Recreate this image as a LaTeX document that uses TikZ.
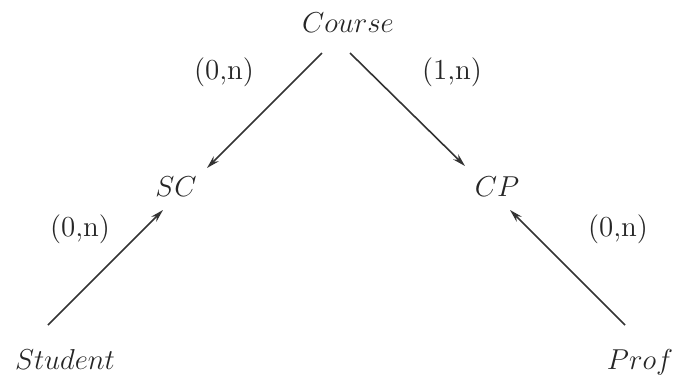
\documentclass[tikz,border=0pt]{standalone}
\usetikzlibrary{arrows.meta}
\begin{document}
\begin{tikzpicture}[x=0.5pt,y=-0.5pt,
  lbl/.style={inner sep=0pt,font=\fontsize{14.5}{17}\selectfont,text=black!85},
  conn/.style={line width=0.8pt,draw=black!80,-{Stealth[length=6.5pt,width=3.6pt]}}]
\useasboundingbox (0,0) rectangle (676,381);
% entity / relationship names
\node[lbl] (course)  at (348,23)  {$Course$};
\node[lbl] (sc)      at (176,187) {$SC$};
\node[lbl] (cp)      at (497,187) {$CP$};
\node[lbl] (student) at (65,359)  {$Student$};
\node[lbl] (prof)    at (640,362) {$Prof$};
% cardinality labels
\node[lbl] (l1) at (224,72)  {(0,n)};
\node[lbl] (l2) at (452,72)  {(1,n)};
\node[lbl] (l3) at (80,229)  {(0,n)};
\node[lbl] (l4) at (618,229) {(0,n)};
% connectors
\draw[conn] ([shift={(-26,30)}]course.center) -- ([shift={(31,-19)}]sc.center);
\draw[conn] ([shift={(2,30)}]course.center) -- ([shift={(-32,-21)}]cp.center);
\draw[conn] ([shift={(-17,-34)}]student.center) -- ([shift={(-13,23)}]sc.center);
\draw[conn] ([shift={(-15,-37)}]prof.center) -- ([shift={(13,23)}]cp.center);
\end{tikzpicture}
\end{document}
